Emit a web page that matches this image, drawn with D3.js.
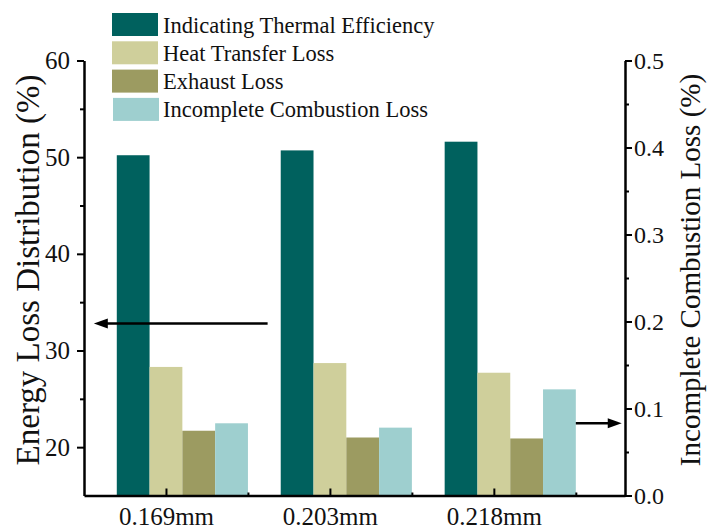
<!DOCTYPE html>
<html>
<head>
<meta charset="utf-8">
<script src="https://cdn.jsdelivr.net/npm/d3@7"></script>
<style>
  html, body { margin: 0; padding: 0; background: #fff; }
  svg { display: block; }
  text { font-family: "Liberation Serif", "Times New Roman", serif; fill: #111; }
</style>
</head>
<body>
<svg id="chart" width="707" height="530"></svg>
<script>
// Nozzle hole diameters (categories)
const sizes = ["0.169mm", "0.203mm", "0.218mm"];

// Energy distribution (%), left axis
const thermalEfficiency = [50.2, 50.7, 51.6];
const heatTransferLoss = [28.3, 28.7, 27.7];
const exhaustLoss = [21.7, 21.0, 20.9];

// Incomplete combustion loss (%), right axis
const incompleteLoss = [0.083, 0.078, 0.122];

// Series names and fills
const seriesNames = ["Indicating Thermal Efficiency", "Heat Transfer Loss", "Exhaust Loss", "Incomplete Combustion Loss"];
const seriesColors = ["#00615e", "#cfcf9b", "#9c9b61", "#9ecfcf"];

// Axis ticks
const leftTicks = [20, 30, 40, 50, 60];
const leftMinor = [25, 35, 45, 55];
const rightTicks = [0.0, 0.1, 0.2, 0.3, 0.4, 0.5];
const rightMinor = [0.05, 0.15, 0.25, 0.35, 0.45];

// Arrows pointing each bar group to its axis
const leftArrowLevel = 32.8;
const rightArrowLevel = 0.083;

const svg = d3.select("#chart");

const x = d3.scaleLinear().domain([0.5, 3.8]).range([84, 625]);
const yL = d3.scaleLinear().domain([15, 60]).range([495.5, 60.5]);
const yR = d3.scaleLinear().domain([0, 0.5]).range([495.5, 60.5]);
const barW = 0.2; // in category units

// Bars: three series on the left axis, one on the right axis
const leftSeries = [thermalEfficiency, heatTransferLoss, exhaustLoss];
leftSeries.forEach((vals, s) => {
  svg.append("g").selectAll("rect").data(vals).join("rect")
    .attr("x", (d, i) => x(i + 1 + (s - 1.5) * barW))
    .attr("width", x(barW) - x(0))
    .attr("y", d => yL(d))
    .attr("height", d => yL(15) - yL(d))
    .attr("fill", seriesColors[s]);
});
svg.append("g").selectAll("rect").data(incompleteLoss).join("rect")
  .attr("x", (d, i) => x(i + 1 + 1.5 * barW))
  .attr("width", x(barW) - x(0))
  .attr("y", d => yR(d))
  .attr("height", d => yR(0) - yR(d))
  .attr("fill", seriesColors[3]);

function styleAxis(g) {
  g.select(".domain").attr("stroke", "#000").attr("stroke-width", 2.5);
  g.selectAll(".tick line").attr("stroke", "#000").attr("stroke-width", 2);
}

// Left axis
const gL = svg.append("g").attr("transform", `translate(${x(0.5)},0)`);
gL.call(d3.axisLeft(yL).tickValues(leftTicks).tickSize(7).tickSizeOuter(0).tickPadding(7))
  .call(styleAxis);
gL.selectAll(".tick text").attr("font-size", 25).attr("font-family", "Liberation Serif").attr("fill", "#111");
gL.append("g").call(d3.axisLeft(yL).tickValues(leftMinor).tickSize(4).tickFormat(""))
  .call(g => g.select(".domain").remove())
  .selectAll(".tick line").attr("stroke", "#000").attr("stroke-width", 2);

// Right axis
const gR = svg.append("g").attr("transform", `translate(${x(3.8)},0)`);
gR.call(d3.axisRight(yR).tickValues(rightTicks).tickSize(7).tickSizeOuter(0).tickPadding(2)
    .tickFormat(d3.format(".1f")))
  .call(styleAxis);
gR.selectAll(".tick text").attr("font-size", 24).attr("font-family", "Liberation Serif").attr("fill", "#111");
gR.append("g").call(d3.axisRight(yR).tickValues(rightMinor).tickSize(4).tickFormat(""))
  .call(g => g.select(".domain").remove())
  .selectAll(".tick line").attr("stroke", "#000").attr("stroke-width", 2);

// Bottom axis, ticks pointing inward
const gB = svg.append("g").attr("transform", `translate(0,${yL(15)})`);
gB.call(d3.axisBottom(x).tickValues([1, 2, 3]).tickSize(-7).tickSizeOuter(0)
    .tickFormat((d, i) => sizes[i]))
  .call(styleAxis);
gB.selectAll(".tick text").attr("font-size", 25).attr("font-family", "Liberation Serif")
  .attr("fill", "#111").attr("y", 29).attr("dy", 0);
gB.append("g").call(d3.axisBottom(x).tickValues([1.5, 2.5, 3.5]).tickSize(-3).tickFormat(""))
  .call(g => g.select(".domain").remove())
  .selectAll(".tick line").attr("stroke", "#000").attr("stroke-width", 2);

// Axis titles
svg.append("text")
  .attr("transform", "translate(39,270) rotate(-90)")
  .attr("text-anchor", "middle").attr("font-size", 33)
  .text("Energy Loss Distribution (%)");
svg.append("text")
  .attr("transform", "translate(700,270) rotate(-90)")
  .attr("text-anchor", "middle").attr("font-size", 29)
  .text("Incomplete Combustion Loss (%)");

// Arrows
function arrow(x1, x2, y) {
  const dir = Math.sign(x2 - x1);
  const head = 14;
  svg.append("line")
    .attr("x1", x1).attr("x2", x2 - dir * head + dir * 2)
    .attr("y1", y).attr("y2", y)
    .attr("stroke", "#000").attr("stroke-width", 2.5);
  svg.append("path")
    .attr("d", `M${x2},${y} L${x2 - dir * head},${y - 5} L${x2 - dir * head},${y + 5} Z`)
    .attr("fill", "#000");
}
arrow(x(1.62), x(0.56), yL(leftArrowLevel));
arrow(x(3.5), x(3.78), yR(rightArrowLevel));

// Legend
const legend = svg.append("g").attr("transform", "translate(112,13)");
seriesNames.forEach((name, i) => {
  const row = legend.append("g").attr("transform", `translate(0,${i * 28.3})`);
  row.append("rect").attr("x", i === 3 ? 1 : 0).attr("width", 46).attr("height", 23)
    .attr("fill", seriesColors[i]);
  row.append("text").attr("x", 51).attr("y", 19.5).attr("font-size", 22.5).text(name);
});
</script>
</body>
</html>
